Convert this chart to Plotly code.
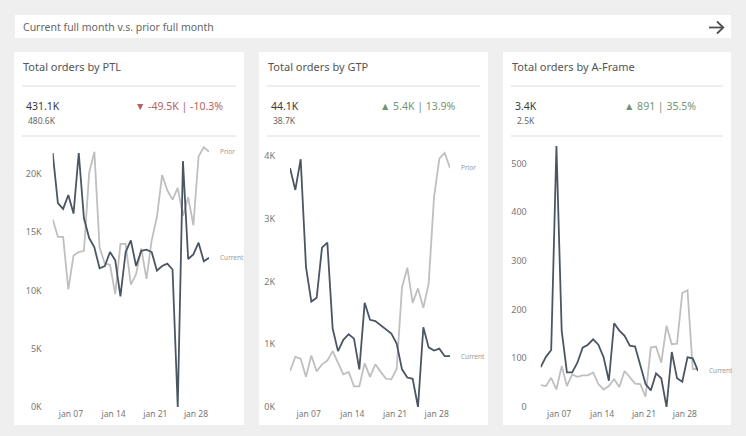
import plotly.graph_objects as go

W, H = 746, 436

# ---------------- data ----------------
days = list(range(31))
tick_vals = [3.5, 11.7, 19.7, 27.5]
tick_text = ["jan 07", "jan 14", "jan 21", "jan 28"]

ptl_current = [21.8, 17.5, 17.0, 18.2, 16.6, 21.8, 16.2, 14.5, 13.7, 11.9, 12.1, 13.3, 12.6, 9.5,
               13.3, 14.3, 12.1, 13.4, 13.5, 13.3, 11.7, 12.1, 12.3, 11.8, 0.0, 21.1, 12.7, 13.1,
               14.1, 12.5, 12.8]
ptl_prior = [16.1, 14.6, 14.6, 10.1, 13.0, 13.3, 13.4, 20.1, 21.9, 13.7, 12.3, 12.2, 9.7, 14.0,
             14.0, 10.5, 11.4, 13.6, 11.0, 14.3, 16.3, 19.9, 18.6, 17.8, 18.8, 16.4, 18.0, 15.6,
             21.5, 22.3, 21.9]
ptl_current = [v * 1000 for v in ptl_current]
ptl_prior = [v * 1000 for v in ptl_prior]

gtp_current = [3.81, 3.46, 3.95, 2.23, 1.68, 1.74, 2.54, 2.62, 1.25, 0.89, 1.07, 1.16, 1.09, 0.60,
               1.66, 1.39, 1.37, 1.30, 1.24, 1.17, 1.01, 0.60, 0.47, 0.45, 0.0, 1.27, 0.95, 0.90,
               0.93, 0.81, 0.81]
gtp_prior = [0.57, 0.80, 0.77, 0.48, 0.82, 0.57, 0.68, 0.74, 0.89, 0.69, 0.52, 0.56, 0.33, 0.33,
             0.70, 0.48, 0.68, 0.56, 0.45, 0.44, 0.61, 1.91, 2.22, 1.66, 1.89, 1.58, 1.97, 3.34,
             3.96, 4.05, 3.81]
gtp_current = [v * 1000 for v in gtp_current]
gtp_prior = [v * 1000 for v in gtp_prior]

af_current = [82, 103, 117, 536, 157, 71, 71, 91, 122, 128, 139, 128, 102, 54, 172, 157, 146, 126,
              124, 87, 47, 34, 69, 59, 0, 113, 59, 52, 102, 100, 74]
af_prior = [45, 43, 60, 36, 84, 43, 67, 62, 65, 65, 71, 47, 36, 43, 57, 41, 74, 62, 48, 47, 21,
            122, 124, 91, 167, 129, 130, 234, 240, 78, 78]

titles = ["Total orders by PTL", "Total orders by GTP", "Total orders by A-Frame"]
cur_totals = ["431.1K", "44.1K", "3.4K"]
prior_totals = ["480.6K", "38.7K", "2.5K"]
deltas = ["▼ -49.5K | -10.3%", "▲ 5.4K | 13.9%", "▲ 891 | 35.5%"]
delta_up = [False, True, True]
banner_text = "Current full month v.s. prior full month"

# ---------------- styling ----------------
BG = "#efefef"
CUR = "#4b5663"
PRI = "#bfbfbf"
FONT = "Segoe UI, Noto Sans, Open Sans, sans-serif"

def px(x):
    return x / W

def py(y):
    return 1 - y / H

cards = [(14, 244), (259, 488), (503, 731)]
plot_x = [(52.7, 209), (290, 450), (540.7, 698)]
plot_y = (146, 407)
y_ranges = [[0, 22400], [0, 4160], [0, 536]]
y_ticks = [[0, 5000, 10000, 15000, 20000], [0, 1000, 2000, 3000, 4000],
           [0, 100, 200, 300, 400, 500]]
y_ticktext = [["0K", "5K", "10K", "15K", "20K"], ["0K", "1K", "2K", "3K", "4K"],
              ["0", "100", "200", "300", "400", "500"]]
standoffs = [10, 14, 13]
series = [(ptl_current, ptl_prior), (gtp_current, gtp_prior), (af_current, af_prior)]
show_prior_label = [True, True, False]

fig = go.Figure()
shapes = []
annotations = []

# banner
shapes.append(dict(type="rect", xref="paper", yref="paper", x0=px(15), x1=px(731),
                   y0=py(38), y1=py(15), fillcolor="white", line=dict(width=0), layer="below"))
annotations.append(dict(xref="paper", yref="paper", x=px(21), y=py(26.5), xanchor="left",
                        yanchor="middle", text=banner_text, showarrow=False,
                        font=dict(family=FONT, size=10.5, color="#666666")))
# arrow icon
shapes.append(dict(type="path", xref="paper", yref="paper",
                   path=f"M {px(709)} {py(27.5)} L {px(723)} {py(27.5)}",
                   line=dict(color="#505050", width=1.8)))
shapes.append(dict(type="path", xref="paper", yref="paper",
                   path=f"M {px(717)} {py(21.5)} L {px(723.3)} {py(27.5)} L {px(717)} {py(33.5)}",
                   line=dict(color="#505050", width=1.8)))

for i in range(3):
    cx0, cx1 = cards[i]
    shapes.append(dict(type="rect", xref="paper", yref="paper", x0=px(cx0), x1=px(cx1),
                       y0=py(425), y1=py(52), fillcolor="white", line=dict(width=0),
                       layer="below"))
    for sy in (86, 136):
        shapes.append(dict(type="line", xref="paper", yref="paper", x0=px(cx0 + 8),
                           x1=px(cx1 - 8), y0=py(sy), y1=py(sy),
                           line=dict(color="#dcdcdc", width=1)))
    annotations.append(dict(xref="paper", yref="paper", x=px(cx0 + 7), y=py(66.5),
                            xanchor="left", yanchor="middle", text=titles[i], showarrow=False,
                            font=dict(family=FONT, size=11, color="#555555")))
    annotations.append(dict(xref="paper", yref="paper", x=px(cx0 + 10), y=py(106),
                            xanchor="left", yanchor="middle", text=cur_totals[i],
                            showarrow=False, font=dict(family=FONT, size=10.5, color="#3a3a3a")))
    annotations.append(dict(xref="paper", yref="paper", x=px(cx0 + 12), y=py(120),
                            xanchor="left", yanchor="middle", text=prior_totals[i],
                            showarrow=False, font=dict(family=FONT, size=8.5, color="#666666")))
    annotations.append(dict(xref="paper", yref="paper", x=px(cx0 + 119), y=py(106),
                            xanchor="left", yanchor="middle", text=deltas[i], showarrow=False,
                            font=dict(family=FONT, size=10.5,
                                      color="#739473" if delta_up[i] else "#b8625f")))

    n = "" if i == 0 else str(i + 1)
    xa, ya = "x" + n, "y" + n
    cur, pri = series[i]
    fig.add_trace(go.Scatter(x=days, y=pri, mode="lines", line=dict(color=PRI, width=1.8),
                             xaxis=xa, yaxis=ya, showlegend=False, hoverinfo="skip",
                             cliponaxis=False))
    fig.add_trace(go.Scatter(x=days, y=cur, mode="lines", line=dict(color=CUR, width=1.8),
                             xaxis=xa, yaxis=ya, showlegend=False, hoverinfo="skip",
                             cliponaxis=False))
    if show_prior_label[i]:
        annotations.append(dict(xref=xa, yref=ya, x=days[-1], y=pri[-1], xanchor="left",
                                yanchor="middle", xshift=9, text="Prior", showarrow=False,
                                font=dict(family=FONT, size=6.5, color="#9a9a9a")))
    annotations.append(dict(xref=xa, yref=ya, x=days[-1], y=cur[-1], xanchor="left",
                            yanchor="middle", xshift=9, text="Current", showarrow=False,
                            font=dict(family=FONT, size=6.5, color="#9a9a9a")))

    x0, x1 = plot_x[i]
    fig.layout["xaxis" + n] = dict(domain=[px(x0), px(x1)], range=[0, 30], anchor=ya,
                                   tickvals=tick_vals, ticktext=tick_text, showgrid=False,
                                   zeroline=False, showline=False, ticks="", automargin=False,
                                   tickfont=dict(family=FONT, size=8.5, color="#777777"),
                                   fixedrange=True)
    fig.layout["yaxis" + n] = dict(domain=[py(plot_y[1]), py(plot_y[0])], range=y_ranges[i],
                                   anchor=xa, tickvals=y_ticks[i], ticktext=y_ticktext[i],
                                   showgrid=False, zeroline=False, showline=False, ticks="",
                                   automargin=False, ticklabelstandoff=standoffs[i],
                                   tickfont=dict(family=FONT, size=9, color="#777777"),
                                   fixedrange=True)

fig.update_layout(width=W, height=H, margin=dict(l=0, r=0, t=0, b=0, autoexpand=False),
                  paper_bgcolor=BG, plot_bgcolor="rgba(0,0,0,0)", shapes=shapes,
                  annotations=annotations)

page_css = (
    "var h=document.documentElement,b=document.body;"
    "h.style.margin='0';h.style.overflow='hidden';h.style.background='#efefef';"
    "b.style.margin='0';b.style.overflow='hidden';b.style.background='#efefef';"
)
fig.write_html("out.html", config={"displayModeBar": False}, post_script=page_css)
